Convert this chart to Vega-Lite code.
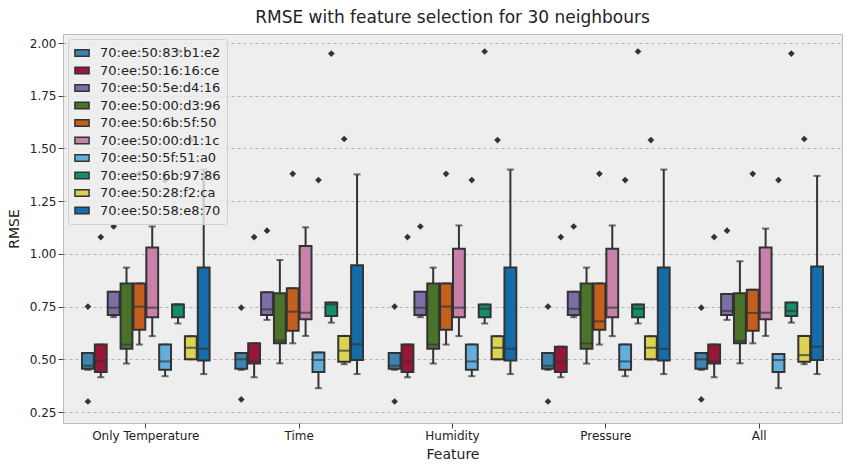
{
"$schema":"https://vega.github.io/schema/vega-lite/v6.json",
"width":779,"height":389,"autosize":{"type":"none"},
"padding":{"left":63,"top":34,"right":12,"bottom":47},
"background":"white",
"title":{"text":"RMSE with feature selection for 30 neighbours","fontSize":17,"fontWeight":"normal","font":"DejaVu Sans","color":"#222","offset":7},
"config":{"view":{"fill":"#eeeeee","stroke":"#bcbcbc"},"font":"DejaVu Sans",
"axis":{"labelFont":"DejaVu Sans","titleFont":"DejaVu Sans","labelFontSize":12,"titleFontSize":14,"titleFontWeight":"normal","labelColor":"#222","titleColor":"#222","gridColor":"#b2b2b2","gridDash":[3,3],"domain":false,"tickColor":"#444"}},
"datasets":{
"boxes":[
{"f":"Only Temperature","d":"70:ee:50:83:b1:e2","lo":0.45,"q1":0.455,"md":0.47,"q3":0.53,"hi":0.53},
{"f":"Only Temperature","d":"70:ee:50:16:16:ce","lo":0.415,"q1":0.44,"md":0.49,"q3":0.57,"hi":0.57},
{"f":"Only Temperature","d":"70:ee:50:5e:d4:16","lo":0.70,"q1":0.71,"md":0.745,"q3":0.82,"hi":0.82},
{"f":"Only Temperature","d":"70:ee:50:00:d3:96","lo":0.48,"q1":0.55,"md":0.57,"q3":0.86,"hi":0.935},
{"f":"Only Temperature","d":"70:ee:50:6b:5f:50","lo":0.57,"q1":0.64,"md":0.75,"q3":0.86,"hi":0.86},
{"f":"Only Temperature","d":"70:ee:50:00:d1:1c","lo":0.61,"q1":0.70,"md":0.745,"q3":1.03,"hi":1.13},
{"f":"Only Temperature","d":"70:ee:50:5f:51:a0","lo":0.42,"q1":0.45,"md":0.49,"q3":0.57,"hi":0.57},
{"f":"Only Temperature","d":"70:ee:50:6b:97:86","lo":0.67,"q1":0.70,"md":0.76,"q3":0.76,"hi":0.76},
{"f":"Only Temperature","d":"70:ee:50:28:f2:ca","lo":0.50,"q1":0.50,"md":0.555,"q3":0.61,"hi":0.61},
{"f":"Only Temperature","d":"70:ee:50:58:e8:70","lo":0.43,"q1":0.495,"md":0.55,"q3":0.935,"hi":1.40},
{"f":"Time","d":"70:ee:50:83:b1:e2","lo":0.45,"q1":0.455,"md":0.50,"q3":0.53,"hi":0.53},
{"f":"Time","d":"70:ee:50:16:16:ce","lo":0.415,"q1":0.48,"md":0.49,"q3":0.576,"hi":0.576},
{"f":"Time","d":"70:ee:50:5e:d4:16","lo":0.687,"q1":0.71,"md":0.737,"q3":0.818,"hi":0.818},
{"f":"Time","d":"70:ee:50:00:d3:96","lo":0.481,"q1":0.576,"md":0.588,"q3":0.813,"hi":0.971},
{"f":"Time","d":"70:ee:50:6b:5f:50","lo":0.576,"q1":0.636,"md":0.726,"q3":0.837,"hi":0.837},
{"f":"Time","d":"70:ee:50:00:d1:1c","lo":0.611,"q1":0.69,"md":0.721,"q3":1.037,"hi":1.126},
{"f":"Time","d":"70:ee:50:5f:51:a0","lo":0.363,"q1":0.44,"md":0.497,"q3":0.532,"hi":0.532},
{"f":"Time","d":"70:ee:50:6b:97:86","lo":0.674,"q1":0.706,"md":0.76,"q3":0.769,"hi":0.769},
{"f":"Time","d":"70:ee:50:28:f2:ca","lo":0.477,"q1":0.489,"md":0.541,"q3":0.611,"hi":0.611},
{"f":"Time","d":"70:ee:50:58:e8:70","lo":0.43,"q1":0.497,"md":0.571,"q3":0.946,"hi":1.377},
{"f":"Humidity","d":"70:ee:50:83:b1:e2","lo":0.45,"q1":0.455,"md":0.47,"q3":0.53,"hi":0.53},
{"f":"Humidity","d":"70:ee:50:16:16:ce","lo":0.415,"q1":0.44,"md":0.49,"q3":0.57,"hi":0.57},
{"f":"Humidity","d":"70:ee:50:5e:d4:16","lo":0.70,"q1":0.71,"md":0.745,"q3":0.82,"hi":0.82},
{"f":"Humidity","d":"70:ee:50:00:d3:96","lo":0.48,"q1":0.55,"md":0.57,"q3":0.86,"hi":0.935},
{"f":"Humidity","d":"70:ee:50:6b:5f:50","lo":0.57,"q1":0.64,"md":0.75,"q3":0.86,"hi":0.86},
{"f":"Humidity","d":"70:ee:50:00:d1:1c","lo":0.61,"q1":0.70,"md":0.745,"q3":1.025,"hi":1.135},
{"f":"Humidity","d":"70:ee:50:5f:51:a0","lo":0.42,"q1":0.45,"md":0.49,"q3":0.57,"hi":0.57},
{"f":"Humidity","d":"70:ee:50:6b:97:86","lo":0.67,"q1":0.70,"md":0.74,"q3":0.76,"hi":0.76},
{"f":"Humidity","d":"70:ee:50:28:f2:ca","lo":0.50,"q1":0.50,"md":0.555,"q3":0.61,"hi":0.61},
{"f":"Humidity","d":"70:ee:50:58:e8:70","lo":0.43,"q1":0.495,"md":0.55,"q3":0.935,"hi":1.40},
{"f":"Pressure","d":"70:ee:50:83:b1:e2","lo":0.45,"q1":0.455,"md":0.47,"q3":0.53,"hi":0.53},
{"f":"Pressure","d":"70:ee:50:16:16:ce","lo":0.415,"q1":0.44,"md":0.49,"q3":0.56,"hi":0.56},
{"f":"Pressure","d":"70:ee:50:5e:d4:16","lo":0.70,"q1":0.71,"md":0.74,"q3":0.82,"hi":0.82},
{"f":"Pressure","d":"70:ee:50:00:d3:96","lo":0.48,"q1":0.55,"md":0.575,"q3":0.86,"hi":0.935},
{"f":"Pressure","d":"70:ee:50:6b:5f:50","lo":0.57,"q1":0.64,"md":0.68,"q3":0.86,"hi":0.86},
{"f":"Pressure","d":"70:ee:50:00:d1:1c","lo":0.61,"q1":0.70,"md":0.745,"q3":1.025,"hi":1.135},
{"f":"Pressure","d":"70:ee:50:5f:51:a0","lo":0.42,"q1":0.45,"md":0.49,"q3":0.57,"hi":0.57},
{"f":"Pressure","d":"70:ee:50:6b:97:86","lo":0.67,"q1":0.70,"md":0.74,"q3":0.76,"hi":0.76},
{"f":"Pressure","d":"70:ee:50:28:f2:ca","lo":0.50,"q1":0.50,"md":0.555,"q3":0.61,"hi":0.61},
{"f":"Pressure","d":"70:ee:50:58:e8:70","lo":0.43,"q1":0.495,"md":0.55,"q3":0.935,"hi":1.40},
{"f":"All","d":"70:ee:50:83:b1:e2","lo":0.45,"q1":0.455,"md":0.50,"q3":0.53,"hi":0.53},
{"f":"All","d":"70:ee:50:16:16:ce","lo":0.415,"q1":0.48,"md":0.49,"q3":0.57,"hi":0.57},
{"f":"All","d":"70:ee:50:5e:d4:16","lo":0.687,"q1":0.71,"md":0.73,"q3":0.81,"hi":0.81},
{"f":"All","d":"70:ee:50:00:d3:96","lo":0.481,"q1":0.576,"md":0.588,"q3":0.813,"hi":0.965},
{"f":"All","d":"70:ee:50:6b:5f:50","lo":0.576,"q1":0.636,"md":0.72,"q3":0.83,"hi":0.83},
{"f":"All","d":"70:ee:50:00:d1:1c","lo":0.611,"q1":0.69,"md":0.721,"q3":1.03,"hi":1.12},
{"f":"All","d":"70:ee:50:5f:51:a0","lo":0.363,"q1":0.44,"md":0.497,"q3":0.525,"hi":0.525},
{"f":"All","d":"70:ee:50:6b:97:86","lo":0.674,"q1":0.706,"md":0.73,"q3":0.769,"hi":0.769},
{"f":"All","d":"70:ee:50:28:f2:ca","lo":0.477,"q1":0.489,"md":0.52,"q3":0.611,"hi":0.611},
{"f":"All","d":"70:ee:50:58:e8:70","lo":0.43,"q1":0.497,"md":0.56,"q3":0.94,"hi":1.37}
],
"outliers":[
{"f":"Only Temperature","d":"70:ee:50:83:b1:e2","v":0.75},{"f":"Only Temperature","d":"70:ee:50:83:b1:e2","v":0.30},
{"f":"Only Temperature","d":"70:ee:50:16:16:ce","v":1.08},{"f":"Only Temperature","d":"70:ee:50:5e:d4:16","v":1.13},
{"f":"Only Temperature","d":"70:ee:50:6b:5f:50","v":1.38},{"f":"Only Temperature","d":"70:ee:50:5f:51:a0","v":1.35},
{"f":"Only Temperature","d":"70:ee:50:6b:97:86","v":1.96},{"f":"Only Temperature","d":"70:ee:50:28:f2:ca","v":1.54},
{"f":"Time","d":"70:ee:50:83:b1:e2","v":0.745},{"f":"Time","d":"70:ee:50:83:b1:e2","v":0.31},
{"f":"Time","d":"70:ee:50:16:16:ce","v":1.08},{"f":"Time","d":"70:ee:50:5e:d4:16","v":1.11},
{"f":"Time","d":"70:ee:50:6b:5f:50","v":1.38},{"f":"Time","d":"70:ee:50:5f:51:a0","v":1.35},
{"f":"Time","d":"70:ee:50:6b:97:86","v":1.95},{"f":"Time","d":"70:ee:50:28:f2:ca","v":1.545},
{"f":"Humidity","d":"70:ee:50:83:b1:e2","v":0.75},{"f":"Humidity","d":"70:ee:50:83:b1:e2","v":0.30},
{"f":"Humidity","d":"70:ee:50:16:16:ce","v":1.08},{"f":"Humidity","d":"70:ee:50:5e:d4:16","v":1.13},
{"f":"Humidity","d":"70:ee:50:6b:5f:50","v":1.38},{"f":"Humidity","d":"70:ee:50:5f:51:a0","v":1.35},
{"f":"Humidity","d":"70:ee:50:6b:97:86","v":1.96},{"f":"Humidity","d":"70:ee:50:28:f2:ca","v":1.54},
{"f":"Pressure","d":"70:ee:50:83:b1:e2","v":0.75},{"f":"Pressure","d":"70:ee:50:83:b1:e2","v":0.30},
{"f":"Pressure","d":"70:ee:50:16:16:ce","v":1.08},{"f":"Pressure","d":"70:ee:50:5e:d4:16","v":1.13},
{"f":"Pressure","d":"70:ee:50:6b:5f:50","v":1.38},{"f":"Pressure","d":"70:ee:50:5f:51:a0","v":1.35},
{"f":"Pressure","d":"70:ee:50:6b:97:86","v":1.96},{"f":"Pressure","d":"70:ee:50:28:f2:ca","v":1.54},
{"f":"All","d":"70:ee:50:83:b1:e2","v":0.745},{"f":"All","d":"70:ee:50:83:b1:e2","v":0.31},
{"f":"All","d":"70:ee:50:16:16:ce","v":1.08},{"f":"All","d":"70:ee:50:5e:d4:16","v":1.11},
{"f":"All","d":"70:ee:50:6b:5f:50","v":1.38},{"f":"All","d":"70:ee:50:5f:51:a0","v":1.35},
{"f":"All","d":"70:ee:50:6b:97:86","v":1.95},{"f":"All","d":"70:ee:50:28:f2:ca","v":1.545}
]},
"encoding":{
"x":{"field":"f","type":"nominal","sort":["Only Temperature","Time","Humidity","Pressure","All"],"title":"Feature","scale":{"paddingInner":0,"paddingOuter":0.04},"axis":{"labelAngle":0,"grid":false,"titlePadding":6}},
"xOffset":{"field":"d","type":"nominal","sort":null,"scale":{"paddingInner":0.08,"paddingOuter":1}}
},
"layer":[
{"data":{"name":"boxes"},"mark":{"type":"rule","color":"#333","strokeWidth":2},
 "encoding":{"y":{"field":"lo","type":"quantitative","title":"RMSE","scale":{"domain":[0.198,2.043],"nice":false,"zero":false},"axis":{"values":[0.25,0.5,0.75,1.0,1.25,1.5,1.75,2.0],"format":".2f","titlePadding":8}},"y2":{"field":"hi"}}},
{"data":{"name":"boxes"},"mark":{"type":"tick","color":"#333","thickness":2,"size":7},"encoding":{"y":{"field":"lo","type":"quantitative"}}},
{"data":{"name":"boxes"},"mark":{"type":"tick","color":"#333","thickness":2,"size":7},"encoding":{"y":{"field":"hi","type":"quantitative"}}},
{"data":{"name":"boxes"},"mark":{"type":"bar","stroke":"#333","strokeWidth":2},
 "encoding":{"y":{"field":"q1","type":"quantitative"},"y2":{"field":"q3"},
 "fill":{"field":"d","type":"nominal","sort":null,"title":null,
  "scale":{"domain":["70:ee:50:83:b1:e2","70:ee:50:16:16:ce","70:ee:50:5e:d4:16","70:ee:50:00:d3:96","70:ee:50:6b:5f:50","70:ee:50:00:d1:1c","70:ee:50:5f:51:a0","70:ee:50:6b:97:86","70:ee:50:28:f2:ca","70:ee:50:58:e8:70"],
   "range":["#3d85b1","#9a1636","#7e6ea6","#4a7228","#c4601b","#c882a9","#62afde","#118e6c","#dbd352","#146da8"]},
  "legend":{"orient":"top-left","offset":5,"symbolType":"M-1,-0.45H1V0.45H-1Z","symbolSize":200,"symbolStrokeColor":"#333","symbolStrokeWidth":1.5,"labelFontSize":13,"labelColor":"#222","rowPadding":2.5,"fillColor":"rgba(238,238,238,0.8)","strokeColor":"#d0d0d0","padding":6,"cornerRadius":3,"labelOffset":10}}}},
{"data":{"name":"boxes"},"mark":{"type":"tick","color":"#333","thickness":2},"encoding":{"y":{"field":"md","type":"quantitative"}}},
{"data":{"name":"outliers"},"mark":{"type":"point","shape":"diamond","filled":true,"color":"#333","size":45,"opacity":1},"encoding":{"y":{"field":"v","type":"quantitative"}}}
]
}
